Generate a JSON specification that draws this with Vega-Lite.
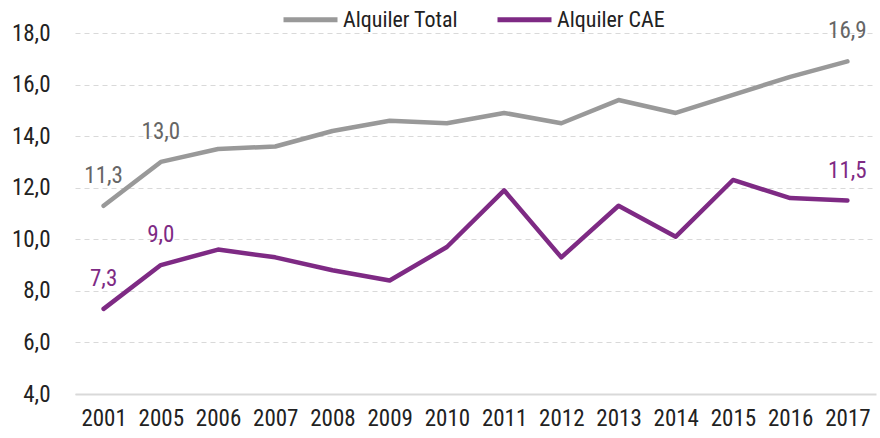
{
  "$schema": "https://vega.github.io/schema/vega-lite/v6.json",
  "width": 801,
  "height": 361,
  "autosize": {"type": "none"},
  "padding": {"left": 75, "top": 33, "right": 4, "bottom": 44},
  "background": "white",
  "config": {
    "locale": {"number": {"decimal": ",", "thousands": ".", "grouping": [3], "currency": ["", " €"]}},
    "font": "Roboto Condensed, Roboto, sans-serif",
    "view": {"stroke": null}
  },
  "data": {
    "values": [
      {"year": "2001", "serie": "Alquiler Total", "valor": 11.3},
      {"year": "2005", "serie": "Alquiler Total", "valor": 13.0},
      {"year": "2006", "serie": "Alquiler Total", "valor": 13.5},
      {"year": "2007", "serie": "Alquiler Total", "valor": 13.6},
      {"year": "2008", "serie": "Alquiler Total", "valor": 14.2},
      {"year": "2009", "serie": "Alquiler Total", "valor": 14.6},
      {"year": "2010", "serie": "Alquiler Total", "valor": 14.5},
      {"year": "2011", "serie": "Alquiler Total", "valor": 14.9},
      {"year": "2012", "serie": "Alquiler Total", "valor": 14.5},
      {"year": "2013", "serie": "Alquiler Total", "valor": 15.4},
      {"year": "2014", "serie": "Alquiler Total", "valor": 14.9},
      {"year": "2015", "serie": "Alquiler Total", "valor": 15.6},
      {"year": "2016", "serie": "Alquiler Total", "valor": 16.3},
      {"year": "2017", "serie": "Alquiler Total", "valor": 16.9},
      {"year": "2001", "serie": "Alquiler CAE", "valor": 7.3},
      {"year": "2005", "serie": "Alquiler CAE", "valor": 9.0},
      {"year": "2006", "serie": "Alquiler CAE", "valor": 9.6},
      {"year": "2007", "serie": "Alquiler CAE", "valor": 9.3},
      {"year": "2008", "serie": "Alquiler CAE", "valor": 8.8},
      {"year": "2009", "serie": "Alquiler CAE", "valor": 8.4},
      {"year": "2010", "serie": "Alquiler CAE", "valor": 9.7},
      {"year": "2011", "serie": "Alquiler CAE", "valor": 11.9},
      {"year": "2012", "serie": "Alquiler CAE", "valor": 9.3},
      {"year": "2013", "serie": "Alquiler CAE", "valor": 11.3},
      {"year": "2014", "serie": "Alquiler CAE", "valor": 10.1},
      {"year": "2015", "serie": "Alquiler CAE", "valor": 12.3},
      {"year": "2016", "serie": "Alquiler CAE", "valor": 11.6},
      {"year": "2017", "serie": "Alquiler CAE", "valor": 11.5}
    ]
  },
  "encoding": {
    "x": {
      "field": "year", "type": "ordinal",
      "scale": {"type": "point", "padding": 0.5},
      "axis": {
        "title": null, "labelAngle": 0, "labelFontSize": 23, "labelColor": "#222222",
        "labelPadding": 13, "ticks": false, "domain": true, "domainColor": "#d9d9d9",
        "domainWidth": 2, "grid": false
      }
    },
    "y": {
      "field": "valor", "type": "quantitative",
      "scale": {"domain": [4, 18], "nice": false, "zero": false},
      "axis": {
        "title": null, "values": [4, 6, 8, 10, 12, 14, 16, 18], "format": ".1f",
        "labelFontSize": 23, "labelColor": "#222222", "labelPadding": 25,
        "ticks": false, "domain": false, "grid": true, "gridColor": "#d9d9d9",
        "gridDash": [5, 4], "gridWidth": 1.2
      }
    }
  },
  "layer": [
    {
      "mark": {"type": "line", "strokeWidth": 4.5, "strokeCap": "round", "strokeJoin": "round"},
      "encoding": {
        "color": {
          "field": "serie", "type": "nominal",
          "scale": {"domain": ["Alquiler Total", "Alquiler CAE"], "range": ["#999999", "#7e2a84"]},
          "legend": {
            "title": null, "orient": "none", "legendX": 206, "legendY": -43,
            "direction": "horizontal",
            "labelFontSize": 22, "labelColor": "#222222", "symbolType": "stroke",
            "symbolStrokeWidth": 5, "symbolSize": 2916, "labelOffset": 3,
            "columnPadding": 28
          }
        }
      }
    },
    {
      "transform": [{"filter": "indexof(['2001','2005','2017'], datum.year) >= 0"}],
      "mark": {"type": "text", "dy": -30, "fontSize": 23, "align": "center"},
      "encoding": {
        "text": {"field": "valor", "type": "quantitative", "format": ".1f"},
        "color": {
          "condition": {"test": "datum.serie == 'Alquiler Total'", "value": "#666666"},
          "value": "#7e2a84"
        }
      }
    }
  ]
}
